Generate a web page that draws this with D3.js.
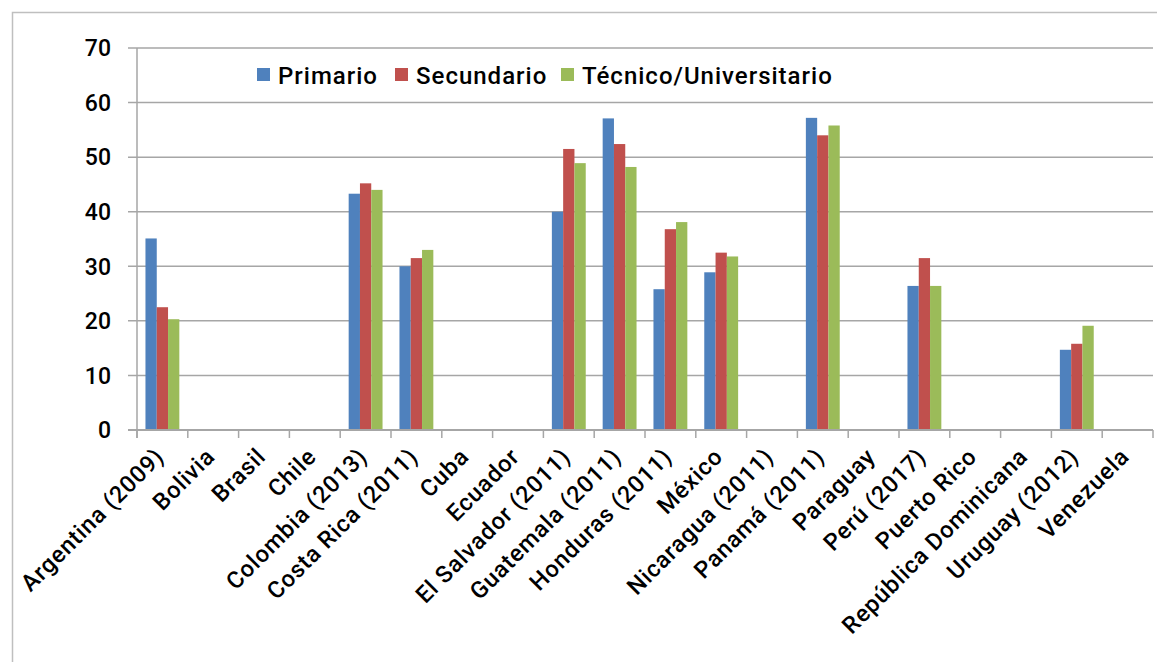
<!DOCTYPE html>
<html>
<head>
<meta charset="utf-8">
<script src="https://cdn.jsdelivr.net/npm/d3@7"></script>
<style>
  body { margin: 0; background: #fff; }
  text { font-family: Roboto, "Noto Sans", sans-serif; font-weight: 500; fill: #000; }
</style>
</head>
<body>
<div id="chart"></div>
<script>
// categories (countries) along the x axis
var paises = ["Argentina (2009)", "Bolivia", "Brasil", "Chile", "Colombia (2013)", "Costa Rica (2011)",
  "Cuba", "Ecuador", "El Salvador (2011)", "Guatemala (2011)", "Honduras (2011)", "México",
  "Nicaragua (2011)", "Panamá (2011)", "Paraguay", "Perú  (2017)", "Puerto Rico",
  "República Dominicana", "Uruguay (2012)", "Venezuela"];

var series = ["Primario", "Secundario", "Técnico/Universitario"];
var colores = ["#4f81bd", "#c0504d", "#9bbb59"];

// null = no data for that country
var primario   = [35.1, null, null, null, 43.3, 30.0, null, null, 40.0, 57.1, 25.8, 28.9, null, 57.2, null, 26.4, null, null, 14.7, null];
var secundario = [22.5, null, null, null, 45.2, 31.5, null, null, 51.5, 52.4, 36.8, 32.5, null, 54.0, null, 31.5, null, null, 15.8, null];
var tecnico    = [20.3, null, null, null, 44.0, 33.0, null, null, 48.9, 48.2, 38.1, 31.8, null, 55.8, null, 26.4, null, null, 19.1, null];

var yTicks = [0, 10, 20, 30, 40, 50, 60, 70];

var width = 1157, height = 662;
var plot = { left: 137, right: 1153, top: 48, bottom: 430 };

var svg = d3.select('#chart').append('svg')
    .attr('width', width)
    .attr('height', height);

// outer frame (only top and left edges show in the picture)
svg.append('path')
    .attr('d', 'M12.5,' + height + 'V12.5H' + width)
    .attr('fill', 'none')
    .attr('stroke', '#bfbfbf')
    .attr('stroke-width', 1.5);

var x0 = d3.scaleBand().domain(paises).range([plot.left, plot.right]).padding(0);
var x1 = d3.scaleBand().domain(series).range([0, x0.bandwidth()]).paddingInner(0).paddingOuter(0.75);
var y = d3.scaleLinear().domain([0, 70]).range([plot.bottom, plot.top]);

// gridlines
svg.append('g')
  .selectAll('line')
  .data(yTicks)
  .enter()
  .append('line')
    .attr('x1', plot.left - 9)
    .attr('x2', plot.right)
    .attr('y1', d => y(d))
    .attr('y2', d => y(d))
    .attr('stroke', '#a6a6a6')
    .attr('stroke-width', 1.5);

// y axis line
svg.append('line')
    .attr('x1', plot.left).attr('x2', plot.left)
    .attr('y1', plot.top).attr('y2', plot.bottom + 8)
    .attr('stroke', '#a6a6a6').attr('stroke-width', 1.5);

// y labels
svg.append('g')
  .selectAll('text')
  .data(yTicks)
  .enter()
  .append('text')
    .attr('x', 111)
    .attr('y', d => y(d))
    .attr('dy', '0.36em')
    .attr('text-anchor', 'end')
    .style('font-size', '23px')
    .text(d => d);

// bars
var rows = paises.map((p, i) => ({ pais: p, vals: [primario[i], secundario[i], tecnico[i]] }));

var groups = svg.append('g')
  .selectAll('g')
  .data(rows)
  .enter()
  .append('g')
    .attr('transform', d => 'translate(' + x0(d.pais) + ',0)');

groups.selectAll('rect')
  .data(d => d.vals.map((v, j) => ({ serie: series[j], v: v, c: colores[j] })).filter(e => e.v != null))
  .enter()
  .append('rect')
    .attr('x', d => x1(d.serie))
    .attr('width', x1.bandwidth())
    .attr('y', d => y(d.v))
    .attr('height', d => y(0) - y(d.v))
    .attr('fill', d => d.c);

// x axis line and ticks
var xAxis = svg.append('g');
xAxis.append('line')
    .attr('x1', plot.left - 9).attr('x2', plot.right)
    .attr('y1', plot.bottom).attr('y2', plot.bottom)
    .attr('stroke', '#a6a6a6').attr('stroke-width', 2);

var bounds = paises.map(p => x0(p)).concat([plot.right]);
xAxis.selectAll('line.tick')
  .data(bounds)
  .enter()
  .append('line')
    .attr('class', 'tick')
    .attr('x1', d => d).attr('x2', d => d)
    .attr('y1', plot.bottom).attr('y2', plot.bottom + 8)
    .attr('stroke', '#a6a6a6').attr('stroke-width', 1.5);

// rotated category labels
xAxis.selectAll('text')
  .data(paises)
  .enter()
  .append('text')
    .attr('transform', d => 'translate(' + (x0(d) + x0.bandwidth() / 2 + 3) + ',' + (plot.bottom + 28) + ') rotate(-45)')
    .attr('text-anchor', 'end')
    .style('font-size', '23.5px')
    .style('letter-spacing', '0.8px')
    .text(d => d);

// legend
var legendX = [257, 395, 561];
var legend = svg.append('g')
  .selectAll('g')
  .data(series)
  .enter()
  .append('g')
    .attr('transform', (d, i) => 'translate(' + legendX[i] + ',68)');

legend.append('rect')
    .attr('width', 13).attr('height', 13)
    .attr('fill', (d, i) => colores[i]);

legend.append('text')
    .attr('x', 21)
    .attr('y', 7)
    .attr('dy', '0.36em')
    .style('font-size', '24px')
    .style('letter-spacing', '1px')
    .text(d => d);
</script>
</body>
</html>
